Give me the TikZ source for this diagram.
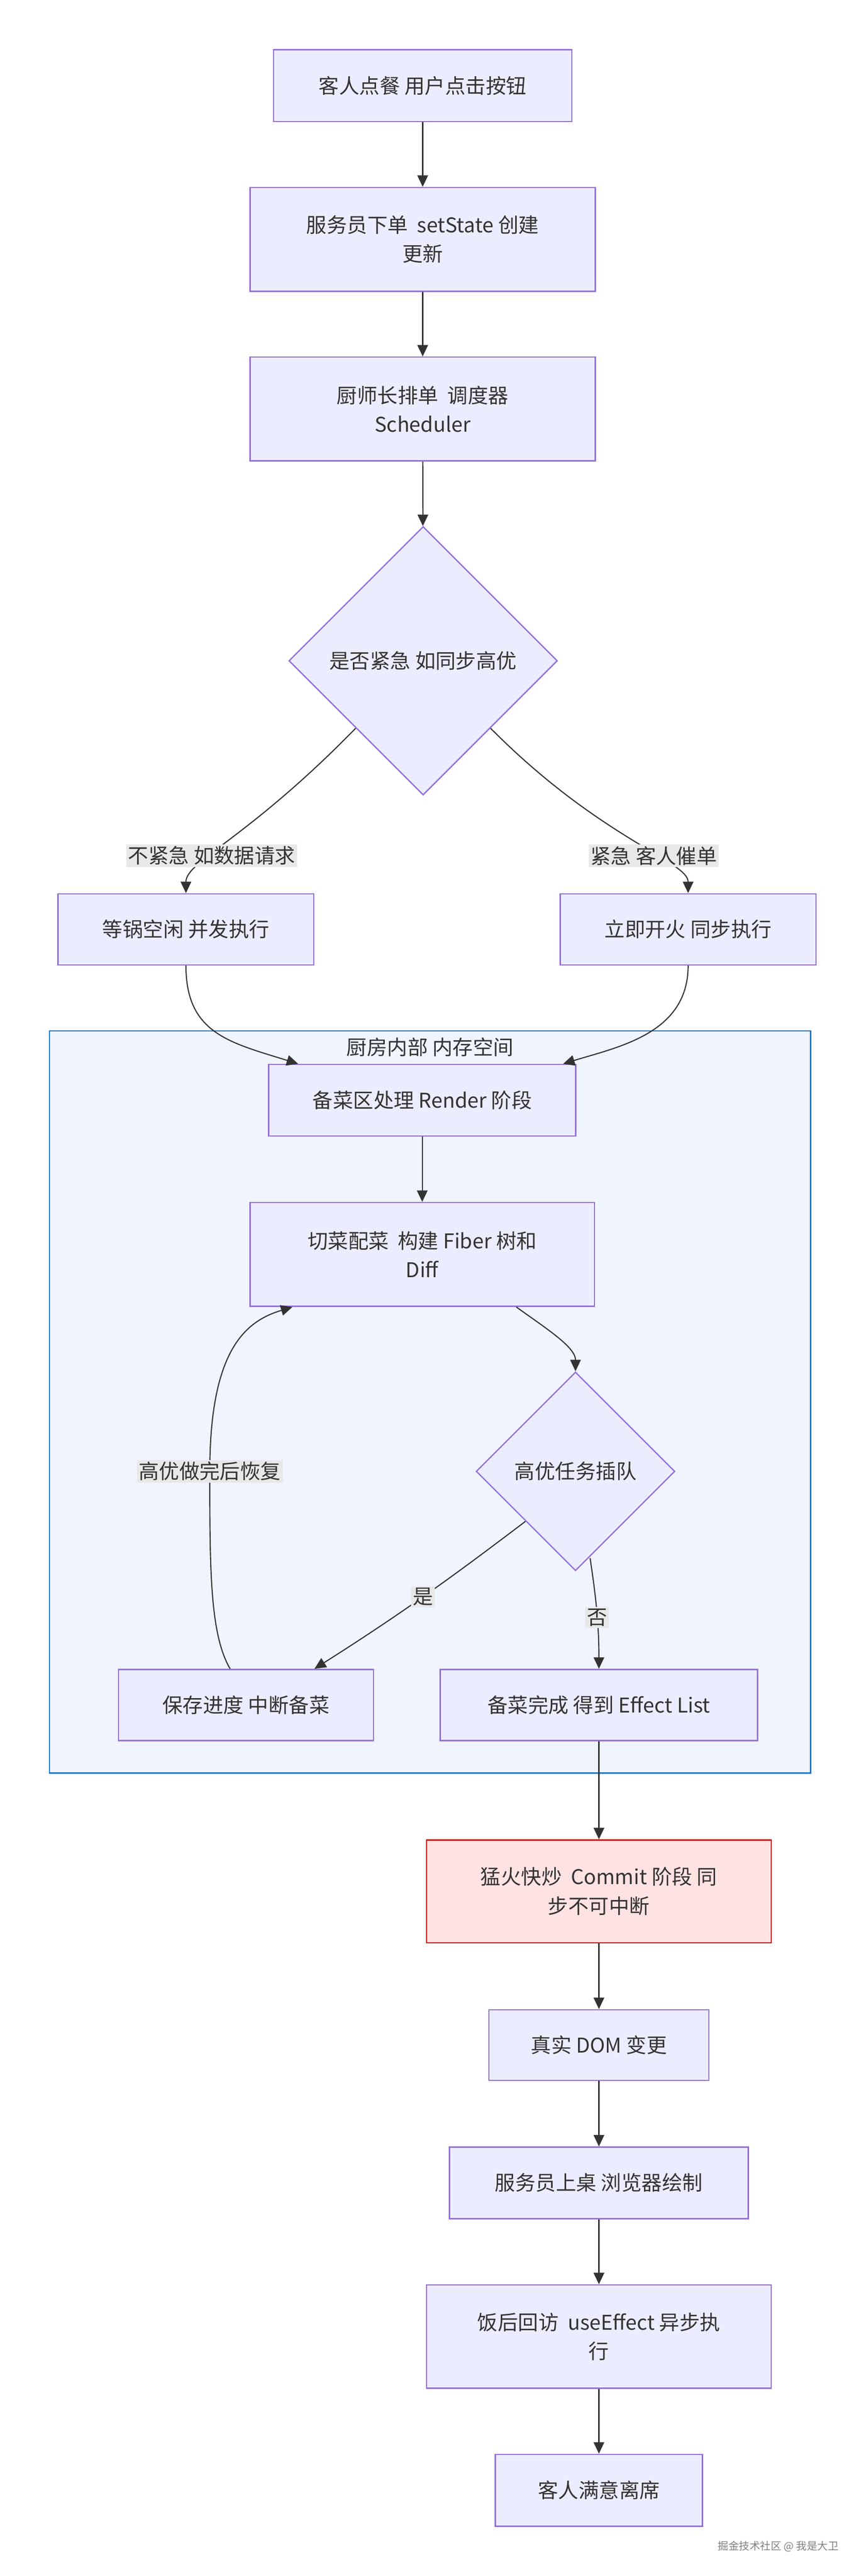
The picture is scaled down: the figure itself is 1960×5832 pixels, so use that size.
\documentclass[tikz,border=0pt]{standalone}
\usepackage{fontspec}
\setmainfont{Noto Sans CJK SC}
\usetikzlibrary{shapes.geometric,arrows.meta}
\definecolor{boxFill}{RGB}{236,236,255}
\definecolor{boxDraw}{RGB}{147,112,219}
\definecolor{lineColor}{RGB}{51,51,51}
\definecolor{textColor}{RGB}{51,51,51}
\definecolor{labelFill}{RGB}{232,232,232}
\definecolor{clusterFill}{RGB}{239,244,255}
\definecolor{clusterDraw}{RGB}{30,120,200}
\definecolor{hotFill}{RGB}{255,226,226}
\definecolor{hotDraw}{RGB}{214,20,20}
\tikzset{
  stage/.style={draw=boxDraw,fill=boxFill,line width=3pt,text=textColor,align=center,
    inner sep=0pt,font=\fontsize{46}{66}\selectfont},
  choice/.style={stage,diamond,aspect=1},
  hot/.style={stage,draw=hotDraw,fill=hotFill},
  flow/.style={draw=lineColor,line width=2.5pt,-{Triangle[length=26pt,width=24pt]}},
  tag/.style={fill=labelFill,text=textColor,inner sep=4pt,font=\fontsize{46}{56}\selectfont},
}
\begin{document}
\begin{tikzpicture}[x=1pt,y=-1pt]
\path[use as bounding box,fill=white] (0,0) rectangle (1960,5832);

% cluster
\path[draw=clusterDraw,fill=clusterFill,line width=3pt] (112,2334) rectangle (1835,4014);
\node[text=textColor,font=\fontsize{46}{56}\selectfont] (kitchen) at (974,2371) {厨房内部 内存空间};

% nodes
\node[stage,minimum width=675,minimum height=163] (order) at (957,194) {客人点餐 用户点击按钮};
\node[stage,minimum width=781,minimum height=235] (setstate) at (957,542) {服务员下单 \ setState 创建\\更新};
\node[stage,minimum width=781,minimum height=235] (sched) at (957,926) {厨师长排单 \ 调度器\\Scheduler};
\node[choice,minimum size=608] (urgent) at (958,1496) {是否紧急 如同步高优};
\node[stage,minimum width=579,minimum height=161] (idle) at (421,2104) {等锅空闲 并发执行};
\node[stage,minimum width=579,minimum height=161] (sync) at (1558,2104) {立即开火 同步执行};
\node[stage,minimum width=695,minimum height=162] (render) at (956,2491) {备菜区处理 Render 阶段};
\node[stage,minimum width=780,minimum height=235] (fiber) at (956,2840) {切菜配菜 \ 构建 Fiber 树和\\Diff};
\node[choice,minimum size=450] (interrupt) at (1303,3331) {高优任务插队};
\node[stage,minimum width=577,minimum height=161] (save) at (557,3860) {保存进度 中断备菜};
\node[stage,minimum width=719,minimum height=161] (done) at (1356,3860) {备菜完成 得到 Effect List};
\node[hot,minimum width=780,minimum height=233] (commit) at (1356,4282) {猛火快炒 \ Commit 阶段 同\\步不可中断};
\node[stage,minimum width=498,minimum height=160] (dom) at (1356,4630) {真实 DOM 变更};
\node[stage,minimum width=676,minimum height=162] (paint) at (1356,4942) {服务员上桌 浏览器绘制};
\node[stage,minimum width=780,minimum height=234] (effect) at (1356,5290) {饭后回访 \ useEffect 异步执\\行};
\node[stage,minimum width=469,minimum height=163] (leave) at (1356,5638) {客人满意离席};

% edges
\draw[flow] (order) -- (setstate);
\draw[flow] (setstate) -- (sched);
\draw[flow] (sched) -- (urgent);
\draw[flow] (urgent.south west) .. controls (560,1900) and (421,1950) .. (idle.north)
  node[tag,pos=0.62] {不紧急 如数据请求};
\draw[flow] (urgent.south east) .. controls (1360,1900) and (1558,1950) .. (sync.north)
  node[tag,pos=0.62] {紧急 客人催单};
\draw[flow] (idle.south) .. controls (421,2340) and (520,2360) .. (render.north west -| 675,0);
\draw[flow] (sync.south) .. controls (1558,2340) and (1400,2370) .. (render.north east -| 1275,0);
\draw[flow] (render) -- (fiber);
\draw[flow] (fiber.south -| 1169,0) .. controls (1240,3010) and (1303,3050) .. (interrupt.north);
\draw[flow] (interrupt.south west) .. controls (1050,3550) and (930,3640) .. (save.north -| 712,0)
  node[tag,pos=0.55] {是};
\draw[flow] (interrupt.south) ++(33,-30) .. controls (1350,3620) and (1356,3680) .. (done.north)
  node[tag,pos=0.55] {否};
\draw[flow] (save.north -| 521,0) .. controls (475,3700) and (475,3550) .. (475,3331)
  node[tag] {高优做完后恢复}
  .. controls (475,3050) and (560,2990) .. (fiber.south -| 662,0);
\draw[flow] (done) -- (commit);
\draw[flow] (commit) -- (dom);
\draw[flow] (dom) -- (paint);
\draw[flow] (paint) -- (effect);
\draw[flow] (effect) -- (leave);

\node[text=gray,font=\fontsize{24}{28}\selectfont] (mark) at (1762,5765) {掘金技术社区 @ 我是大卫};
\end{tikzpicture}
\end{document}
